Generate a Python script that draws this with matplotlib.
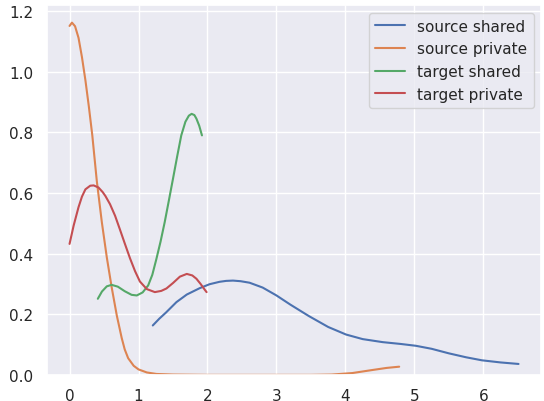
import matplotlib
matplotlib.use("Agg")
import matplotlib.pyplot as plt
import seaborn as sns

sns.set_theme(style="darkgrid")

labels = ["source shared", "source private", "target shared", "target private"]

src_shared_x = [1.207, 1.30, 1.40, 1.55, 1.70, 1.887, 2.03, 2.175, 2.27, 2.37, 2.48, 2.61, 2.80, 3.00, 3.20, 3.47, 3.75, 4.01, 4.25, 4.54, 4.80, 5.02, 5.25, 5.50, 5.75, 5.98, 6.25, 6.51]
src_shared_y = [0.163, 0.185, 0.206, 0.240, 0.265, 0.286, 0.299, 0.307, 0.310, 0.311, 0.309, 0.304, 0.288, 0.262, 0.232, 0.194, 0.158, 0.133, 0.118, 0.108, 0.102, 0.096, 0.086, 0.071, 0.058, 0.048, 0.041, 0.036]

src_private_x = [0.0, 0.035, 0.08, 0.13, 0.18, 0.23, 0.28, 0.33, 0.395, 0.468, 0.54, 0.61, 0.685, 0.756, 0.80, 0.85, 0.93, 1.0, 1.12, 1.26, 1.5, 2.0, 2.5, 3.0, 3.5, 3.8, 4.1, 4.39, 4.6, 4.78]
src_private_y = [1.151, 1.162, 1.150, 1.112, 1.048, 0.972, 0.885, 0.790, 0.640, 0.504, 0.388, 0.290, 0.196, 0.122, 0.084, 0.055, 0.030, 0.018, 0.008, 0.003, 0.001, 0.0, 0.0, 0.0, 0.0, 0.001, 0.006, 0.016, 0.023, 0.027]

tgt_shared_x = [0.41, 0.47, 0.54, 0.61, 0.70, 0.80, 0.90, 0.975, 1.06, 1.14, 1.20, 1.26, 1.32, 1.38, 1.44, 1.50, 1.56, 1.62, 1.68, 1.73, 1.77, 1.81, 1.84, 1.88, 1.92]
tgt_shared_y = [0.251, 0.275, 0.292, 0.297, 0.291, 0.276, 0.264, 0.262, 0.272, 0.295, 0.330, 0.383, 0.440, 0.504, 0.575, 0.647, 0.720, 0.790, 0.835, 0.855, 0.861, 0.857, 0.845, 0.822, 0.790]

tgt_private_x = [0.0, 0.06, 0.13, 0.18, 0.23, 0.30, 0.35, 0.42, 0.48, 0.52, 0.587, 0.66, 0.73, 0.80, 0.876, 0.95, 1.02, 1.12, 1.237, 1.33, 1.405, 1.50, 1.60, 1.70, 1.78, 1.84, 1.90, 1.96, 1.987]
tgt_private_y = [0.432, 0.493, 0.553, 0.588, 0.612, 0.624, 0.625, 0.618, 0.603, 0.590, 0.563, 0.525, 0.480, 0.434, 0.385, 0.342, 0.308, 0.283, 0.273, 0.277, 0.285, 0.303, 0.324, 0.333, 0.328, 0.317, 0.300, 0.281, 0.273]

colors = sns.color_palette("deep")[:4]

fig = plt.figure(figsize=(5.44, 4.02), dpi=100)
ax = fig.add_axes([0.086, 0.065, 0.909, 0.92])

series = [(src_shared_x, src_shared_y), (src_private_x, src_private_y),
          (tgt_shared_x, tgt_shared_y), (tgt_private_x, tgt_private_y)]
for (xs, ys), lab, c in zip(series, labels, colors):
    ax.plot(xs, ys, color=c, label=lab, linewidth=1.5)

ax.set_ylim(0, 1.22)
ax.set_xlim(-0.33, 6.84)
ax.set_xticks([0, 1, 2, 3, 4, 5, 6])
ax.set_yticks([0.0, 0.2, 0.4, 0.6, 0.8, 1.0, 1.2])
ax.tick_params(labelsize=11)
ax.legend(loc="upper right", fontsize=11)

fig.savefig("out.png", dpi=100)
